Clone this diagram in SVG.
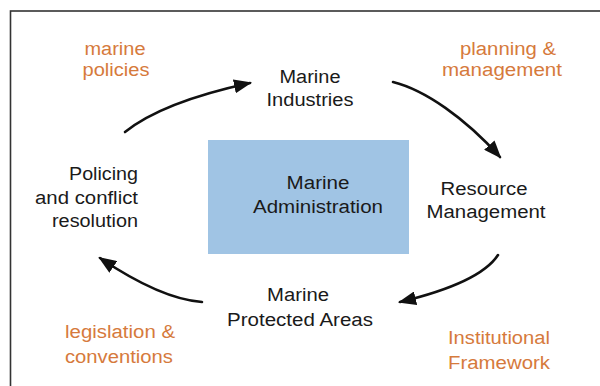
<svg xmlns="http://www.w3.org/2000/svg" width="600" height="386" viewBox="0 0 600 386">
<style>
.t{font-family:"Liberation Sans",Arial,sans-serif;font-size:18px;fill:#1a1a1a;text-anchor:middle}
.o{font-family:"Liberation Sans",Arial,sans-serif;font-size:18px;fill:#D67A3C;text-anchor:middle}
.r{text-anchor:end}
.c{fill:none;stroke:#111;stroke-width:2.6;stroke-linecap:round}
</style>
<defs>
<marker id="ah" viewBox="0 0 18 14" refX="16" refY="7" markerWidth="18" markerHeight="14" markerUnits="userSpaceOnUse" orient="auto">
<path d="M0,0 L18,7 L0,14 z" fill="#111"/>
</marker>
</defs>
<rect x="0" y="0" width="600" height="386" fill="#fff"/>
<rect id="frame" x="10.5" y="11" width="600" height="400" fill="none" stroke="#333" stroke-width="1.6"/>
<g id="connectors">
<path class="c" d="M125,132 C150,112 190,96 250,83" marker-end="url(#ah)"/>
<path class="c" d="M393,82 C425,90 465,118 500,157" marker-end="url(#ah)"/>
<path class="c" d="M498,255 C485,275 450,290 400,302" marker-end="url(#ah)"/>
<path class="c" d="M202,302 C175,300 140,285 100,258" marker-end="url(#ah)"/>
</g>
<g id="admin">
<rect x="208" y="140" width="201" height="114" fill="#A0C4E4"/>
<text class="t" x="318" y="189" textLength="63" lengthAdjust="spacingAndGlyphs">Marine</text>
<text class="t" x="318" y="213" textLength="130" lengthAdjust="spacingAndGlyphs">Administration</text>
</g>
<g id="industries">
<text class="t" x="310" y="83" textLength="61" lengthAdjust="spacingAndGlyphs">Marine</text>
<text class="t" x="310" y="106" textLength="87" lengthAdjust="spacingAndGlyphs">Industries</text>
</g>
<g id="resource">
<text class="t" x="484" y="195" textLength="87" lengthAdjust="spacingAndGlyphs">Resource</text>
<text class="t" x="486" y="218" textLength="119" lengthAdjust="spacingAndGlyphs">Management</text>
</g>
<g id="protected">
<text class="t" x="298" y="301" textLength="62" lengthAdjust="spacingAndGlyphs">Marine</text>
<text class="t" x="300" y="326" textLength="146" lengthAdjust="spacingAndGlyphs">Protected Areas</text>
</g>
<g id="policing">
<text class="t r" x="138" y="180" textLength="69" lengthAdjust="spacingAndGlyphs">Policing</text>
<text class="t r" x="138" y="204" textLength="103" lengthAdjust="spacingAndGlyphs">and conflict</text>
<text class="t r" x="138" y="227" textLength="86" lengthAdjust="spacingAndGlyphs">resolution</text>
</g>
<g id="policies">
<text class="o" x="115" y="55" textLength="61" lengthAdjust="spacingAndGlyphs">marine</text>
<text class="o" x="116" y="76" textLength="67" lengthAdjust="spacingAndGlyphs">policies</text>
</g>
<g id="planning">
<text class="o" x="508" y="55" textLength="96" lengthAdjust="spacingAndGlyphs">planning &amp;</text>
<text class="o" x="502" y="76" textLength="120" lengthAdjust="spacingAndGlyphs">management</text>
</g>
<g id="institutional">
<text class="o" x="499" y="344" textLength="102" lengthAdjust="spacingAndGlyphs">Institutional</text>
<text class="o" x="499" y="369" textLength="102" lengthAdjust="spacingAndGlyphs">Framework</text>
</g>
<g id="legislation">
<text class="o" x="120" y="338" textLength="110" lengthAdjust="spacingAndGlyphs">legislation &amp;</text>
<text class="o" x="119" y="363" textLength="108" lengthAdjust="spacingAndGlyphs">conventions</text>
</g>
</svg>
